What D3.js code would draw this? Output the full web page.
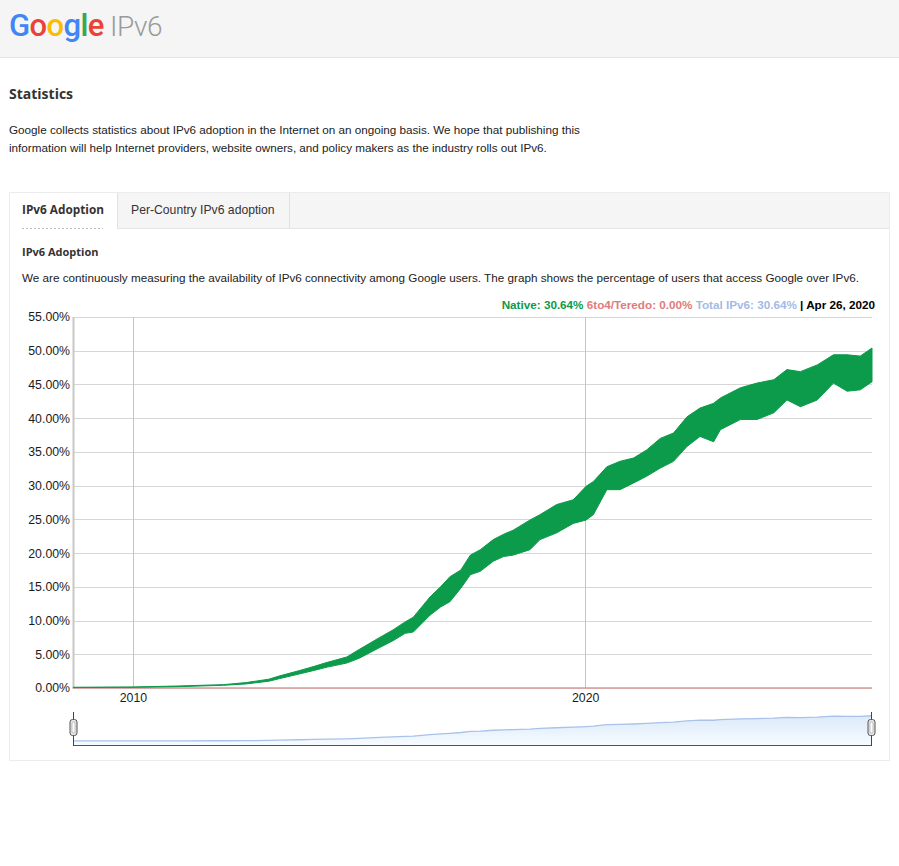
<!DOCTYPE html>
<html>
<head>
<meta charset="utf-8">
<script src="https://cdn.jsdelivr.net/npm/d3@7"></script>
<style>
  html, body { margin: 0; padding: 0; background: #fff; }
  svg { display: block; }
  .arial { font-family: "Liberation Sans", Arial, sans-serif; }
  .open { font-family: "Open Sans", "Noto Sans", sans-serif; }
</style>
</head>
<body>
<svg id="page" width="899" height="866"></svg>
<script>
// ---- Data ----
const dates = ["2008-09-04","2010-01-01","2011-01-01","2012-01-01","2012-07-01","2013-01-01","2013-04-01","2013-09-10",
  "2014-01-01","2014-04-20","2014-09-24","2015-01-01","2015-06-17","2015-10-01","2016-01-08","2016-03-14",
  "2016-07-27","2016-10-20","2017-01-04","2017-04-02","2017-06-18","2017-09-06","2017-12-20","2018-03-14",
  "2018-05-30","2018-10-12","2019-01-01","2019-05-16","2019-09-27","2020-01-08","2020-03-07","2020-06-24",
  "2020-10-08","2021-01-26","2021-05-12","2021-08-29","2021-12-14","2022-04-02","2022-07-16","2022-11-03",
  "2022-12-28","2023-06-07","2023-10-19","2024-03-03","2024-06-17","2024-10-04","2025-02-17","2025-06-28",
  "2025-10-16","2026-01-30","2026-05-05"];
const nativeHigh = [0.10,0.15,0.30,0.50,0.80,1.30,1.80,2.60,
  3.20,3.80,4.60,5.70,7.50,8.60,9.80,10.5,
  13.5,15.0,16.5,17.5,19.7,20.5,22.0,22.8,
  23.4,24.9,25.7,27.2,27.9,29.9,30.6,32.8,
  33.6,34.1,35.3,37.0,37.8,40.2,41.5,42.2,
  43.0,44.5,45.2,45.7,47.2,46.9,47.9,49.4,
  49.4,49.2,50.4];
const nativeLow = [0.08,0.10,0.20,0.40,0.60,1.00,1.40,2.10,
  2.60,3.10,3.70,4.40,6.00,7.00,8.10,8.30,
  10.8,12.0,12.8,14.8,16.8,17.3,18.8,19.5,
  19.7,20.5,22.0,23.0,24.4,24.9,25.7,29.4,
  29.4,30.4,31.4,32.6,33.6,35.8,37.3,36.5,
  38.3,39.8,39.8,40.8,42.7,41.7,42.7,45.2,
  44.0,44.2,45.4];
const teredo = dates.map(() => 0.0);
const yTicks = [0,5,10,15,20,25,30,35,40,45,50,55];
const xTickYears = [2010, 2020];
const legendItems = [
  {label: "Native: 30.64%", color: "#0b9b4a"},
  {label: " 6to4/Teredo: 0.00%", color: "#e07b7b"},
  {label: " Total IPv6: 30.64%", color: "#a3bbe6"},
  {label: " | Apr 26, 2020", color: "#000"}
];

(function () {
const parse = d3.timeParse("%Y-%m-%d");
const rows = dates.map((d,i) => ({date: parse(d), hi: nativeHigh[i], lo: nativeLow[i], t: teredo[i]}));

const svg = d3.select("#page");

// ---- Header ----
svg.append("rect").attr("x",0).attr("y",0).attr("width",899).attr("height",57).attr("fill","#f5f5f5");
svg.append("line").attr("x1",0).attr("x2",899).attr("y1",57.5).attr("y2",57.5).attr("stroke","#e4e4e4");
const logo = svg.append("text").attr("x",9).attr("y",36).attr("font-family","Roboto, 'Open Sans', sans-serif")
  .attr("font-size",31).attr("font-weight",500).attr("letter-spacing",-0.6);
[["G","#4285F4"],["o","#EA4335"],["o","#FBBC05"],["g","#4285F4"],["l","#34A853"],["e","#EA4335"]]
  .forEach(([c,col]) => logo.append("tspan").attr("fill",col).text(c));
svg.append("text").attr("x",110).attr("y",36).attr("font-family","Roboto, sans-serif")
  .attr("font-size",28).attr("font-weight",300).attr("letter-spacing",-0.5).attr("fill","#9a9a9a").text("IPv6");

// ---- Intro ----
svg.append("text").attr("class","open").attr("x",9).attr("y",99).attr("font-size",14).attr("font-weight",700)
  .attr("fill","#333").text("Statistics");
svg.append("text").attr("class","arial").attr("x",9).attr("y",134).attr("font-size",11.7).attr("fill","#222")
  .text("Google collects statistics about IPv6 adoption in the Internet on an ongoing basis. We hope that publishing this");
svg.append("text").attr("class","arial").attr("x",9).attr("y",152).attr("font-size",11.7).attr("fill","#222")
  .text("information will help Internet providers, website owners, and policy makers as the industry rolls out IPv6.");

// ---- Panel with tabs ----
svg.append("rect").attr("x",9.5).attr("y",192.5).attr("width",880).attr("height",568).attr("fill","#fff").attr("stroke","#ececec");
svg.append("rect").attr("x",10).attr("y",193).attr("width",879).attr("height",35).attr("fill","#f5f5f5");
svg.append("line").attr("x1",117).attr("x2",889).attr("y1",228.5).attr("y2",228.5).attr("stroke","#e6e6e6");
svg.append("rect").attr("x",10).attr("y",193).attr("width",107).attr("height",36).attr("fill","#fff");
svg.append("line").attr("x1",117.5).attr("x2",117.5).attr("y1",193).attr("y2",229).attr("stroke","#e2e2e2");
svg.append("line").attr("x1",289.5).attr("x2",289.5).attr("y1",193).attr("y2",228).attr("stroke","#e2e2e2");
svg.append("text").attr("class","open").attr("x",22).attr("y",214).attr("font-size",11.8).attr("font-weight",700)
  .attr("fill","#333").text("IPv6 Adoption");
svg.append("line").attr("x1",22).attr("x2",103).attr("y1",228.5).attr("y2",228.5).attr("stroke","#bbb").attr("stroke-dasharray","2,2");
svg.append("text").attr("class","arial").attr("x",131).attr("y",214).attr("font-size",12.2).attr("fill","#333")
  .text("Per-Country IPv6 adoption");
svg.append("text").attr("class","open").attr("x",22).attr("y",256).attr("font-size",11).attr("font-weight",700)
  .attr("fill","#333").text("IPv6 Adoption");
svg.append("text").attr("class","arial").attr("x",22).attr("y",282).attr("font-size",11.7).attr("fill","#222")
  .text("We are continuously measuring the availability of IPv6 connectivity among Google users. The graph shows the percentage of users that access Google over IPv6.");

// ---- Legend ----
const leg = svg.append("text").attr("class","arial").attr("x",875).attr("y",309).attr("text-anchor","end")
  .attr("font-size",11.7).attr("font-weight",700);
legendItems.forEach(it => leg.append("tspan").attr("fill",it.color).text(it.label));

// ---- Main chart ----
const pLeft = 73, pRight = 872, pTop = 317, pBottom = 688;
const x = d3.scaleTime().domain([parse("2008-09-04"), parse("2026-05-05")]).range([pLeft, pRight]);
const y = d3.scaleLinear().domain([0,55]).range([pBottom, pTop]);

const g = svg.append("g");
g.selectAll("line.hg").data(yTicks).join("line").attr("class","hg")
  .attr("x1",pLeft).attr("x2",pRight).attr("y1",d=>Math.round(y(d))+0.5).attr("y2",d=>Math.round(y(d))+0.5)
  .attr("stroke","#d6d6d6");
const xTickDates = xTickYears.map(yr => new Date(yr,0,1));
g.selectAll("line.vg").data(xTickDates).join("line").attr("class","vg")
  .attr("x1",d=>Math.round(x(d))+0.5).attr("x2",d=>Math.round(x(d))+0.5).attr("y1",pTop).attr("y2",pBottom)
  .attr("stroke","#c4c4c4");

const yAxis = d3.axisLeft(y).tickValues(yTicks).tickFormat(d => d.toFixed(2) + "%").tickSize(0).tickPadding(3);
const ya = g.append("g").attr("transform",`translate(${pLeft},0)`).call(yAxis);
ya.select(".domain").remove();
ya.selectAll("text").attr("font-family","'Liberation Sans', Arial, sans-serif").attr("font-size",12.3).attr("fill","#1a1a1a");
g.append("line").attr("x1",pLeft+0.5).attr("x2",pLeft+0.5).attr("y1",pTop).attr("y2",pBottom+1).attr("stroke","#c8c8c8").attr("stroke-width",2);

const xAxis = d3.axisBottom(x).tickValues(xTickDates).tickFormat(d3.timeFormat("%Y")).tickSize(0).tickPadding(5);
const xa = g.append("g").attr("transform",`translate(0,${pBottom})`).call(xAxis);
xa.select(".domain").remove();
xa.selectAll("text").attr("font-family","'Liberation Sans', Arial, sans-serif").attr("font-size",12.3).attr("fill","#1a1a1a");

g.append("path").datum(rows).attr("fill","none").attr("stroke","#d99a9a").attr("stroke-width",1.5)
  .attr("d", d3.line().x(d=>x(d.date)).y(d=>y(d.t)));

g.append("path").datum(rows).attr("fill","#0b9b4a").attr("stroke","#0b9b4a").attr("stroke-width",1)
  .attr("stroke-linejoin","round")
  .attr("d", d3.area().x(d=>x(d.date)).y0(d=>y(d.lo)).y1(d=>y(d.hi)));

// ---- Range selector ----
const rsTop = 712, rsBase = 745;
const ym = d3.scaleLinear().domain([0,55]).range([741, 712]);
const defs = svg.append("defs");
const grad = defs.append("linearGradient").attr("id","rsg").attr("x1",0).attr("x2",0).attr("y1",0).attr("y2",1);
grad.append("stop").attr("offset","0%").attr("stop-color","#dceaf9");
grad.append("stop").attr("offset","100%").attr("stop-color","#f6fbff");
const mid = d => (d.hi + d.lo) / 2;
svg.append("path").datum(rows).attr("fill","url(#rsg)")
  .attr("d", d3.area().x(d=>x(d.date)).y0(rsBase).y1(d=>ym(mid(d))));
svg.append("path").datum(rows).attr("fill","none").attr("stroke","#a9c2e9").attr("stroke-width",1.3)
  .attr("d", d3.line().x(d=>x(d.date)).y(d=>ym(mid(d))));
svg.append("line").attr("x1",pLeft).attr("x2",pRight).attr("y1",rsBase+0.5).attr("y2",rsBase+0.5).attr("stroke","#555");
[pLeft, pRight-1].forEach(hx => {
  svg.append("line").attr("x1",hx+0.5).attr("x2",hx+0.5).attr("y1",rsTop).attr("y2",rsBase+1).attr("stroke","#444");
  svg.append("rect").attr("x",hx-3).attr("y",719.5).attr("width",7).attr("height",16).attr("rx",2.5)
    .attr("fill","#e8e8e8").attr("stroke","#555");
  svg.append("rect").attr("x",hx-1).attr("y",722).attr("width",3).attr("height",11).attr("rx",1)
    .attr("fill","#fff").attr("stroke","#999").attr("stroke-width",0.6);
});
})();
</script>
</body>
</html>
